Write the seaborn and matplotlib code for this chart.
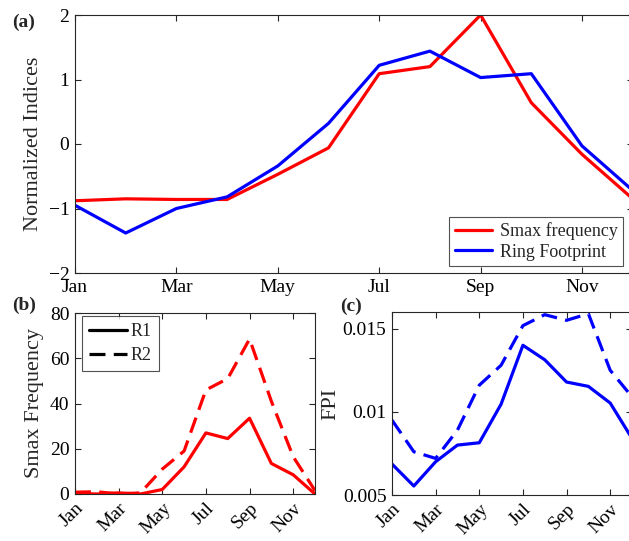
import numpy as np
import pandas as pd
import matplotlib
matplotlib.use("Agg")
import matplotlib.pyplot as plt
import seaborn as sns

# data
months = np.arange(1, 13)
tick_months = [1, 3, 5, 7, 9, 11]
tick_labels = ["Jan", "Mar", "May", "Jul", "Sep", "Nov"]

smax_norm = [-0.88, -0.85, -0.86, -0.86, -0.47, -0.06, 1.09, 1.20, 2.00, 0.64, -0.16, -0.85]
ring_norm = [-0.95, -1.38, -1.00, -0.82, -0.34, 0.32, 1.22, 1.44, 1.03, 1.09, -0.03, -0.72]

smax_r1 = [0.3, 0.0, 0.5, 0.0, 2.0, 12.0, 27.0, 24.5, 33.5, 13.5, 8.5, 0.0]
smax_r2 = [0.8, 1.0, 0.0, 0.5, 11.0, 19.0, 46.0, 51.0, 68.5, 41.0, 16.5, 1.5]

fpi_r1 = [0.00686, 0.00554, 0.0070, 0.0080, 0.00814, 0.01046, 0.0140, 0.01313, 0.01179, 0.01153, 0.01053, 0.0084]
fpi_r2 = [0.0095, 0.0076, 0.0072, 0.0089, 0.0116, 0.0128, 0.01518, 0.01584, 0.0155, 0.0159, 0.0125, 0.0109]

sns.set_style("ticks")
plt.rcParams["font.family"] = ["Liberation Serif", "DejaVu Serif"]

LW = 2.3
DASH = (5, 2.6)
FRAME = "#262626"

fig = plt.figure(figsize=(6.29, 5.41), dpi=100)
ax_a = fig.add_axes([75 / 629, 1 - 273 / 541, (632.7 - 75) / 629, 258 / 541])
ax_b = fig.add_axes([75 / 629, 1 - 494 / 541, 240 / 629, 181 / 541])
ax_c = fig.add_axes([392 / 629, 1 - 495 / 541, 240 / 629, 183 / 541])


def style_axis(ax):
    for sp in ax.spines.values():
        sp.set_visible(True)
        sp.set_color(FRAME)
        sp.set_linewidth(0.8)
    ax.tick_params(direction="in", top=True, right=True, length=4, width=0.8,
                   color=FRAME, labelsize=14, labelcolor="black", pad=4)
    ax.set_xticks(tick_months)
    ax.set_xlim(1, 12)


# (a) normalized indices
df_a = pd.DataFrame({"month": months, "smax": smax_norm, "ring": ring_norm})
sns.lineplot(data=df_a, x="month", y="smax", ax=ax_a, color="red", lw=LW, label="Smax frequency")
sns.lineplot(data=df_a, x="month", y="ring", ax=ax_a, color="blue", lw=LW, label="Ring Footprint")
style_axis(ax_a)
ax_a.set_xticklabels(tick_labels)
ax_a.set_ylim(-2, 2)
ax_a.set_yticks([-2, -1, 0, 1, 2])
ax_a.set_xlabel("")
ax_a.set_ylabel("Normalized Indices", fontsize=16, labelpad=4)
leg = ax_a.legend(loc="lower right", bbox_to_anchor=(0.9826, 0.027), fontsize=13, frameon=True,
                  fancybox=False, edgecolor=FRAME, handlelength=2.1, borderpad=0.3,
                  labelspacing=0.2, handletextpad=0.4, borderaxespad=0)
leg.get_frame().set_linewidth(0.8)

# (b) Smax frequency
df_b = pd.DataFrame({"month": months, "r1": smax_r1, "r2": smax_r2})
sns.lineplot(data=df_b, x="month", y="r1", ax=ax_b, color="red", lw=LW, legend=False)
sns.lineplot(data=df_b, x="month", y="r2", ax=ax_b, color="red", lw=LW, legend=False)
ax_b.lines[-1].set_dashes(DASH)
style_axis(ax_b)
ax_b.set_xticklabels(tick_labels, rotation=45, ha="right", rotation_mode="anchor")
ax_b.set_ylim(0, 80)
ax_b.set_yticks([0, 20, 40, 60, 80])
ax_b.set_xlabel("")
ax_b.set_ylabel("Smax Frequency", fontsize=16, labelpad=4)
h1, = ax_b.plot([], [], color="black", lw=LW)
h2, = ax_b.plot([], [], color="black", lw=LW)
h2.set_dashes(DASH)
leg_b = ax_b.legend([h1, h2], ["R1", "R2"], loc="upper left", bbox_to_anchor=(0.03, 0.985),
                    fontsize=13, frameon=True, fancybox=False, edgecolor=FRAME,
                    handlelength=2.1, borderpad=0.4, labelspacing=0.4,
                    handletextpad=0.2, borderaxespad=0)
leg_b.get_frame().set_linewidth(0.8)

# (c) FPI
df_c = pd.DataFrame({"month": months, "r1": fpi_r1, "r2": fpi_r2})
sns.lineplot(data=df_c, x="month", y="r1", ax=ax_c, color="blue", lw=LW, legend=False)
sns.lineplot(data=df_c, x="month", y="r2", ax=ax_c, color="blue", lw=LW, legend=False)
ax_c.lines[-1].set_dashes(DASH)
style_axis(ax_c)
ax_c.set_xticklabels(tick_labels, rotation=45, ha="right", rotation_mode="anchor")
ax_c.set_ylim(0.005, 0.016)
ax_c.set_yticks([0.005, 0.01, 0.015])
ax_c.set_yticklabels(["0.005", "0.01", "0.015"])
ax_c.set_xlabel("")
ax_c.set_ylabel("FPI", fontsize=16, labelpad=2)

# panel letters
fig.text(12 / 629, 1 - 22 / 541, "(a)", fontsize=14, fontweight="bold", va="center")
fig.text(12 / 629, 1 - 305 / 541, "(b)", fontsize=14, fontweight="bold", va="center")
fig.text(340 / 629, 1 - 306 / 541, "(c)", fontsize=14, fontweight="bold", va="center")

fig.savefig("out.png", dpi=100)
